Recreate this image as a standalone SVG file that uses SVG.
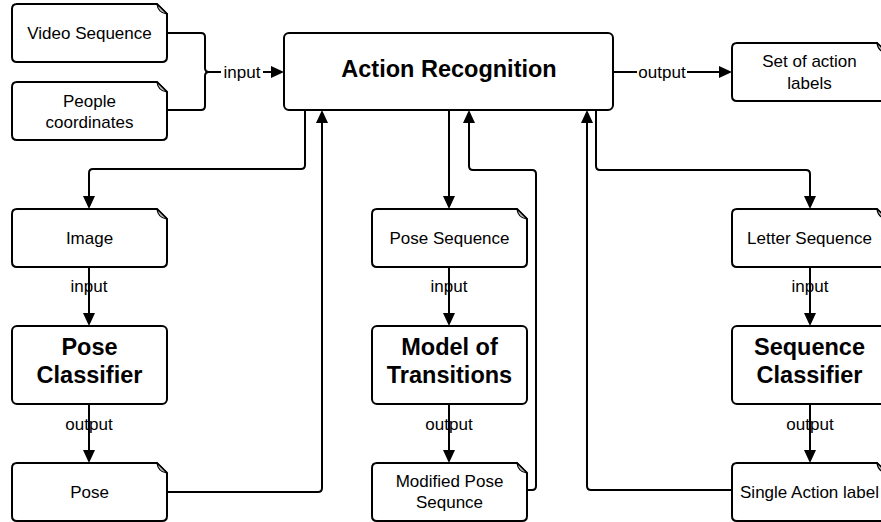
<svg xmlns="http://www.w3.org/2000/svg" xmlns:xlink="http://www.w3.org/1999/xlink" width="881" height="522" viewBox="0 0 881 522">
  <style>
    .box { fill: #fff; stroke: #000; stroke-width: 2; }
    .fold { fill: #c4c4c4; stroke: #000; stroke-width: 1.2; stroke-linejoin: round; }
    .t { font-family: "Liberation Sans", Arial, sans-serif; font-size: 17px; fill: #000; text-anchor: middle; }
    .b { font-family: "Liberation Sans", Arial, sans-serif; font-size: 23.5px; font-weight: bold; fill: #000; text-anchor: middle; }
    .edge { fill: none; stroke: #000; stroke-width: 2; }
    .lbl-bg { fill: #fff; }
  </style>
  <defs>
    <!-- document shape with a folded top-right corner -->
    <g id="doc">
      <path class="box" d="M5,0 H145 L155,10 V53 Q155,58 150,58 H5 Q0,58 0,53 V5 Q0,0 5,0 Z"/>
      <path class="fold" d="M145,0 Q146,9 155,10 Z"/>
    </g>
    <marker id="arrow" markerUnits="userSpaceOnUse" markerWidth="14" markerHeight="12" refX="9" refY="6" orient="auto">
      <path d="M0,0 L13,6 L0,12 Z" fill="#000"/>
    </marker>
  </defs>

  <!-- connectors -->
  <g id="connectors">
    <!-- inputs merge into Action Recognition -->
    <path class="edge" d="M167,33 H201 Q205,33 205,37 V68 Q205,72 209,72"/>
    <path class="edge" d="M167,110 H201 Q205,110 205,106 V76 Q205,72 209,72"/>
    <path class="edge" d="M209,72 H280" marker-end="url(#arrow)"/>
    <rect class="lbl-bg" x="221" y="62" width="42" height="20"/>
    <text class="t" x="242" y="78">input</text>

    <!-- output to action labels -->
    <path class="edge" d="M613,72 H728" marker-end="url(#arrow)"/>
    <rect class="lbl-bg" x="637" y="62" width="50" height="20"/>
    <text class="t" x="662" y="78">output</text>

    <!-- left column -->
    <path class="edge" d="M305,110 V165 Q305,169 301,169 H93 Q89,169 89,173 V205" marker-end="url(#arrow)"/>
    <path class="edge" d="M89,267 V322" marker-end="url(#arrow)"/>
    <text class="t" x="89" y="292">input</text>
    <path class="edge" d="M89,404 V459" marker-end="url(#arrow)"/>
    <text class="t" x="89" y="430">output</text>
    <path class="edge" d="M167,492 H318 Q322,492 322,488 V114" marker-end="url(#arrow)"/>

    <!-- middle column -->
    <path class="edge" d="M449,110 V205" marker-end="url(#arrow)"/>
    <path class="edge" d="M449,267 V322" marker-end="url(#arrow)"/>
    <text class="t" x="449" y="292">input</text>
    <path class="edge" d="M449,404 V459" marker-end="url(#arrow)"/>
    <text class="t" x="449" y="430">output</text>
    <path class="edge" d="M527,490 H532 Q536,490 536,486 V174 Q536,170 532,170 H473 Q469,170 469,166 V114" marker-end="url(#arrow)"/>

    <!-- right column -->
    <path class="edge" d="M596,110 V166 Q596,170 600,170 H806 Q810,170 810,174 V205" marker-end="url(#arrow)"/>
    <path class="edge" d="M810,267 V322" marker-end="url(#arrow)"/>
    <text class="t" x="810" y="292">input</text>
    <path class="edge" d="M810,404 V459" marker-end="url(#arrow)"/>
    <text class="t" x="810" y="430">output</text>
    <path class="edge" d="M732,490 H591 Q587,490 587,486 V114" marker-end="url(#arrow)"/>
  </g>

  <!-- top row -->
  <g id="video-sequence">
    <use xlink:href="#doc" href="#doc" x="12" y="4"/>
    <text class="t" x="89.5" y="39">Video Sequence</text>
  </g>
  <g id="people-coordinates">
    <use xlink:href="#doc" href="#doc" x="12" y="82"/>
    <text class="t" x="89.5" y="107">People</text>
    <text class="t" x="89.5" y="128">coordinates</text>
  </g>
  <g id="action-recognition">
    <rect class="box" x="284" y="33" width="329" height="77" rx="5"/>
    <text class="b" x="449" y="77">Action Recognition</text>
  </g>
  <g id="set-of-action-labels">
    <use xlink:href="#doc" href="#doc" x="732" y="43"/>
    <text class="t" x="809.5" y="67">Set of action</text>
    <text class="t" x="809.5" y="89">labels</text>
  </g>

  <!-- left column nodes -->
  <g id="image">
    <use xlink:href="#doc" href="#doc" x="12" y="209"/>
    <text class="t" x="89.5" y="244">Image</text>
  </g>
  <g id="pose-classifier">
    <rect class="box" x="12" y="326" width="155" height="78" rx="5"/>
    <text class="b" x="89.5" y="355">Pose</text>
    <text class="b" x="89.5" y="383">Classifier</text>
  </g>
  <g id="pose">
    <use xlink:href="#doc" href="#doc" x="12" y="463"/>
    <text class="t" x="89.5" y="498">Pose</text>
  </g>

  <!-- middle column nodes -->
  <g id="pose-sequence">
    <use xlink:href="#doc" href="#doc" x="372" y="209"/>
    <text class="t" x="449.5" y="244">Pose Sequence</text>
  </g>
  <g id="model-of-transitions">
    <rect class="box" x="372" y="326" width="155" height="78" rx="5"/>
    <text class="b" x="449.5" y="355">Model of</text>
    <text class="b" x="449.5" y="383">Transitions</text>
  </g>
  <g id="modified-pose-sequence">
    <use xlink:href="#doc" href="#doc" x="372" y="463"/>
    <text class="t" x="449.5" y="487">Modified Pose</text>
    <text class="t" x="449.5" y="508">Sequnce</text>
  </g>

  <!-- right column nodes -->
  <g id="letter-sequence">
    <use xlink:href="#doc" href="#doc" x="732" y="209"/>
    <text class="t" x="809.5" y="244">Letter Sequence</text>
  </g>
  <g id="sequence-classifier">
    <rect class="box" x="732" y="326" width="155" height="78" rx="5"/>
    <text class="b" x="809.5" y="355">Sequence</text>
    <text class="b" x="809.5" y="383">Classifier</text>
  </g>
  <g id="single-action-label">
    <use xlink:href="#doc" href="#doc" x="732" y="463"/>
    <text class="t" x="809.5" y="498">Single Action label</text>
  </g>
</svg>
